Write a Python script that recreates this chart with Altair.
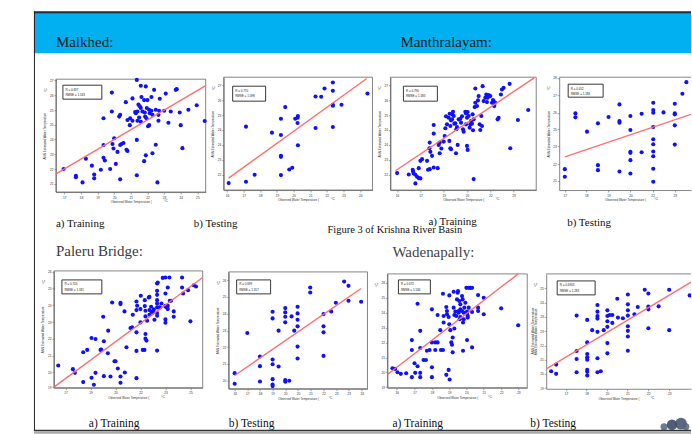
import altair as alt
import pandas as pd

SERIF = "Liberation Serif"
SANS = "Liberation Sans"

# ---------------- data (observed, ANN estimated) ----------------
malkhed_train = [
    (21.36, 27.24), (19.86, 26.5), (21.6, 26.9), (21.9, 26.86), (22.4, 26.66), (23.76, 26.7), (23.7, 26.66),
    (23.1, 26.44), (21.1, 26.16), (20.7, 25.94), (21.64, 26.24), (21.8, 26.06), (22.0, 26.06), (22.24, 26.24),
    (22.74, 26.14), (21.46, 25.8), (21.54, 25.7), (21.6, 25.6), (21.96, 25.6), (22.1, 25.5), (21.26, 25.36),
    (21.4, 25.4), (21.3, 25.3), (21.7, 25.4), (21.84, 25.34), (22.14, 25.3), (22.24, 25.44), (22.5, 25.5),
    (23.0, 25.44), (23.4, 25.4), (23.94, 25.34), (24.46, 25.5), (24.96, 25.76), (20.36, 25.2), (20.3, 25.1),
    (19.86, 25.4), (19.36, 25.0), (20.8, 24.9), (20.96, 25.0), (21.1, 24.86), (21.4, 24.86), (21.5, 25.04),
    (21.6, 24.8), (21.86, 25.1), (21.94, 25.0), (22.3, 25.2), (22.66, 25.2), (22.7, 25.44), (22.1, 24.6),
    (22.04, 24.54), (22.66, 24.86), (23.26, 24.74), (24.0, 24.6), (25.44, 24.84), (20.94, 24.6), (20.0, 23.84),
    (21.36, 23.74), (20.56, 23.56), (20.44, 23.5), (20.36, 23.44), (19.9, 23.5), (19.96, 23.24), (20.74, 23.16),
    (20.8, 23.1), (20.2, 23.04), (19.36, 23.44), (22.5, 23.46), (22.3, 22.96), (21.9, 22.84), (21.8, 22.5),
    (24.1, 23.26), (19.36, 22.7), (19.44, 22.54), (18.3, 22.64), (18.66, 22.24), (19.2, 22.0), (19.76, 22.04),
    (20.1, 22.34), (16.96, 22.04), (17.7, 21.64), (17.7, 21.56), (18.8, 21.72), (18.8, 21.5), (20.36, 21.44),
    (18.1, 21.26), (21.36, 21.68), (22.6, 21.26),
]
malkhed_test = [
    (16.1, 21.26), (17.14, 21.34), (17.66, 21.76), (17.14, 24.66), (18.7, 24.3), (19.24, 25.14), (19.24, 24.16),
    (19.24, 22.9), (19.24, 22.84), (19.24, 21.74), (19.5, 25.84), (19.74, 22.08), (19.92, 22.18), (20.1, 25.14),
    (20.24, 25.2), (20.26, 25.3), (20.24, 24.88), (20.26, 23.54), (21.32, 24.58), (21.32, 26.48), (21.66, 26.46),
    (21.86, 26.96), (22.36, 27.32), (22.36, 26.82), (22.36, 25.92), (22.36, 25.98), (22.36, 24.64), (22.88, 25.98),
    (24.44, 26.66),
]
manth_train = [
    (16.0, 21.86), (16.7, 21.78), (16.94, 22.06), (17.0, 21.84), (17.1, 21.76), (17.2, 21.64), (17.3, 21.56),
    (17.4, 21.54), (17.1, 21.24), (16.96, 21.96), (17.3, 22.16), (17.4, 22.6), (17.5, 22.7), (17.8, 22.6),
    (17.86, 22.06), (17.96, 22.1), (18.2, 22.2), (18.44, 22.16), (17.94, 23.36), (17.96, 23.7), (18.0, 23.14),
    (18.1, 22.9), (18.2, 24.24), (18.2, 24.76), (18.5, 23.56), (18.56, 23.06), (18.56, 23.7), (18.66, 23.34),
    (18.8, 23.76), (18.86, 24.1), (18.9, 24.56), (18.94, 25.28), (19.0, 24.8), (19.1, 25.2), (19.14, 23.8),
    (19.16, 25.44), (19.2, 23.36), (19.24, 23.3), (19.2, 24.7), (19.24, 25.04), (19.3, 25.1), (19.32, 25.4),
    (19.36, 25.56), (19.4, 25.3), (19.44, 24.84), (19.5, 24.86), (19.54, 23.06), (19.56, 24.5), (19.6, 24.64),
    (19.64, 23.56), (19.7, 25.1), (19.8, 25.14), (19.84, 24.9), (19.9, 25.28), (19.96, 24.5), (20.0, 24.36),
    (20.1, 25.56), (20.14, 25.46), (20.14, 24.8), (20.2, 25.2), (20.24, 25.54), (20.3, 25.3), (20.36, 24.6),
    (20.4, 24.8), (20.44, 25.0), (20.5, 24.84), (20.54, 25.4), (20.6, 25.1), (20.56, 24.44), (20.6, 21.5),
    (20.24, 23.26), (20.2, 23.5), (20.7, 26.1), (20.66, 25.84), (20.7, 26.96), (20.8, 25.9), (20.86, 26.24),
    (20.9, 26.5), (20.96, 24.8), (21.0, 24.46), (21.06, 25.3), (21.1, 24.7), (21.14, 27.1), (21.2, 26.2),
    (21.3, 26.4), (21.36, 26.6), (21.4, 26.14), (21.44, 26.4), (21.5, 26.56), (21.6, 26.5), (21.7, 26.1),
    (21.76, 26.26), (21.8, 26.2), (21.84, 25.9), (21.9, 26.1), (22.04, 25.1), (22.1, 25.2), (22.24, 26.6),
    (22.3, 26.9), (22.4, 27.0), (22.76, 27.24), (22.8, 23.36), (23.26, 25.06), (23.88, 25.66),
]
manth_test = [
    (16.5, 22.1), (16.5, 21.64), (17.14, 25.46), (17.14, 25.22), (17.84, 24.36), (18.5, 24.86), (18.5, 22.34),
    (18.5, 22.04), (19.14, 25.24), (19.8, 26.0), (19.8, 25.0), (19.8, 24.9), (19.8, 21.96), (20.46, 25.3),
    (20.46, 24.46), (20.46, 23.14), (20.46, 23.08), (20.46, 22.64), (20.46, 21.84), (21.14, 25.44), (21.14, 23.12),
    (21.84, 26.1), (21.84, 25.66), (21.84, 25.5), (21.84, 24.64), (21.84, 23.9), (21.84, 23.6), (21.84, 23.16),
    (21.84, 22.88), (21.84, 22.12), (21.84, 21.34), (22.46, 25.52), (23.14, 26.04), (23.14, 25.46), (23.14, 25.4),
    (23.14, 24.74), (23.14, 23.58), (23.6, 26.64), (23.84, 27.34),
]
paleru_train = [
    (16.66, 20.5), (17.54, 20.28), (17.66, 20.06), (18.16, 21.3), (18.4, 21.44), (18.16, 19.5), (18.66, 22.16),
    (18.9, 22.1), (18.66, 19.76), (18.8, 19.34), (18.9, 20.06), (19.2, 21.44), (19.24, 21.46), (19.36, 23.44),
    (19.4, 21.96), (19.4, 19.86), (19.64, 21.24), (19.66, 22.6), (19.8, 19.84), (19.9, 24.3), (20.04, 20.76),
    (20.1, 20.76), (20.24, 20.32), (20.4, 24.28), (20.4, 24.2), (20.4, 19.84), (20.4, 19.46), (20.64, 23.76),
    (20.66, 20.08), (20.76, 21.6), (21.0, 22.76), (21.1, 22.8), (21.14, 23.56), (21.36, 22.5), (21.36, 24.36),
    (21.36, 21.38), (21.36, 19.74), (21.36, 23.84), (21.4, 24.1), (21.6, 23.9), (21.6, 23.1), (21.62, 24.7),
    (21.74, 21.44), (21.84, 21.44), (21.86, 24.44), (21.86, 24.08), (21.9, 23.8), (21.9, 23.46), (21.9, 22.4),
    (21.9, 22.12), (21.96, 22.0), (22.0, 23.2), (22.1, 24.6), (22.14, 24.64), (22.14, 23.84), (22.14, 23.56),
    (22.24, 24.04), (22.26, 23.74), (22.36, 23.7), (22.4, 23.88), (22.44, 23.26), (22.6, 25.44), (22.64, 25.5),
    (22.6, 25.0), (22.6, 24.76), (22.6, 24.44), (22.6, 24.24), (22.6, 24.0), (22.6, 23.66), (22.6, 23.5),
    (22.6, 21.4), (22.76, 24.0), (22.86, 24.24), (22.94, 25.78), (23.1, 25.8), (23.1, 24.84), (23.1, 24.1),
    (23.1, 24.04), (23.2, 24.0), (23.24, 25.2), (23.24, 24.1), (23.24, 23.9), (23.1, 23.28), (23.1, 23.08),
    (23.34, 25.8), (23.36, 24.4), (23.44, 24.4), (23.6, 23.76), (23.6, 23.44), (24.1, 25.8), (24.1, 25.2),
    (24.16, 24.84), (24.46, 25.04), (24.6, 23.16), (24.8, 25.34), (24.94, 25.26),
]
paleru_test = [
    (16.46, 20.04), (16.46, 19.4), (17.22, 22.46), (17.98, 21.04), (17.98, 20.46), (17.98, 19.54), (18.74, 23.74),
    (18.74, 23.34), (18.74, 20.86), (18.74, 20.58), (18.74, 19.68), (18.74, 19.36), (18.74, 19.26), (19.1, 22.6),
    (19.1, 20.44), (19.5, 23.96), (19.5, 23.7), (19.5, 23.44), (19.5, 23.1), (19.5, 19.62), (19.5, 19.52),
    (19.74, 19.58), (19.88, 23.46), (20.04, 22.6), (20.24, 24.04), (20.24, 23.64), (20.24, 23.26), (20.24, 22.86),
    (20.24, 21.64), (20.24, 20.92), (21.0, 25.2), (21.0, 24.9), (21.8, 23.6), (21.8, 22.86), (21.8, 22.5),
    (21.8, 21.08), (22.26, 23.76), (22.54, 24.28), (23.04, 25.56), (23.3, 25.3), (23.3, 24.4), (24.06, 24.34),
]
waden_train = [
    (15.74, 20.34), (15.9, 20.3), (16.04, 20.1), (16.24, 20.0), (16.56, 20.04), (16.9, 22.04), (16.9, 21.44),
    (16.9, 19.8), (17.06, 20.64), (17.1, 20.06), (17.24, 20.46), (17.24, 24.24), (17.4, 22.6), (17.4, 21.56),
    (17.4, 20.06), (17.4, 19.8), (17.6, 20.84), (17.74, 20.84), (17.8, 21.4), (17.96, 21.44), (18.1, 23.9),
    (18.1, 21.9), (18.1, 20.4), (18.1, 19.8), (18.3, 21.44), (18.44, 23.56), (18.6, 22.64), (18.64, 21.44),
    (18.76, 21.44), (18.76, 24.84), (18.8, 23.5), (18.8, 23.1), (18.96, 24.04), (18.96, 19.94), (19.0, 23.8),
    (19.0, 23.6), (19.1, 23.44), (19.1, 20.24), (19.14, 24.74), (19.14, 23.0), (19.16, 19.66), (19.2, 22.64),
    (19.26, 21.9), (19.3, 21.76), (19.34, 21.3), (19.4, 24.96), (19.4, 24.0), (19.44, 23.56), (19.44, 22.74),
    (19.5, 23.76), (19.56, 23.5), (19.6, 24.5), (19.64, 24.9), (19.66, 25.0), (19.7, 23.7), (19.7, 23.8),
    (19.74, 24.4), (19.76, 23.3), (19.8, 24.2), (19.8, 23.9), (19.8, 23.44), (19.9, 24.7), (19.9, 23.8),
    (19.94, 24.5), (19.96, 23.1), (19.96, 21.4), (20.0, 23.7), (20.0, 23.3), (20.04, 24.0), (20.1, 24.3),
    (20.16, 25.2), (20.2, 23.76), (20.2, 23.64), (20.24, 23.5), (20.24, 23.4), (20.3, 24.0), (20.3, 25.2),
    (20.2, 22.04), (20.4, 25.2), (20.5, 25.2), (20.5, 21.6), (20.5, 23.74), (20.86, 24.76), (20.86, 24.0),
    (20.86, 23.8), (21.2, 24.6), (21.2, 23.6), (22.24, 23.96), (23.26, 22.94), (19.34, 22.2), (18.3, 21.9),
    (18.44, 21.9),
]
waden_test = [
    (16.26, 20.16), (16.56, 20.56), (16.56, 20.0), (17.8, 23.52), (17.8, 21.38), (17.8, 20.9), (17.8, 20.1),
    (18.44, 23.26), (18.44, 21.2), (18.44, 21.0), (18.44, 20.86), (18.44, 20.24), (18.44, 20.12), (18.44, 19.9),
    (18.44, 21.9), (18.74, 22.64), (19.06, 24.16), (19.06, 23.76), (19.06, 23.5), (19.06, 23.34), (19.06, 22.54),
    (19.06, 20.94), (19.06, 20.1), (19.26, 20.16), (19.44, 22.64), (19.66, 23.84), (19.66, 23.5), (19.66, 23.18),
    (19.66, 22.84), (19.66, 21.86), (19.66, 21.24), (19.8, 23.56), (19.96, 23.56), (19.96, 23.08), (20.26, 24.54),
    (20.3, 23.4), (20.6, 23.36), (20.9, 24.8), (20.9, 24.2), (20.9, 23.84), (20.9, 23.52), (20.9, 22.88),
    (20.9, 22.6), (20.9, 22.26), (20.9, 21.4), (21.3, 23.6), (21.5, 24.04), (21.92, 25.08), (22.14, 24.86),
    (22.14, 24.06), (22.14, 23.9), (22.14, 22.76), (22.76, 24.08), (23.4, 25.08), (23.4, 22.64), (24.64, 24.74),
]

# fitted lines (two end points each)
malkhed_train_fit = [(16.5, 21.76), (25.5, 26.9)]
malkhed_test_fit = [(16.1, 21.56), (24.4, 27.56)]
manth_train_fit = [(15.9, 22.0), (24.24, 27.6)]
manth_test_fit = [(16.5, 22.84), (24.12, 25.4)]
paleru_train_fit = [(16.4, 19.2), (25.34, 25.8)]
paleru_test_fit = [(16.46, 19.9), (24.06, 25.14)]
waden_train_fit = [(15.44, 19.96), (23.26, 26.04)]
waden_test_fit = [(15.96, 20.3), (24.72, 25.54)]

# legend statistics
stats_r = ["R      = 0.697", "R      = 0.770", "R      = 0.790", "R      = 0.452",
           "R      = 0.724", "R      = 0.699", "R      = 0.672", "R      = 0.6903"]
stats_rmse = ["RMSE = 1.533", "RMSE = 1.098", "RMSE = 1.183", "RMSE = 1.186",
              "RMSE = 1.181", "RMSE = 1.317", "RMSE = 1.536", "RMSE = 1.283"]

# axis ticks
ticks = {
    "p1x": [17, 18, 19, 20, 21, 22, 23, 24, 25],
    "p1y": [27.2, 26.34, 25.48, 24.62, 23.76, 22.9, 22.04, 21.18],
    "p2x": [16, 17, 18, 19, 20, 21, 22, 23, 24],
    "p2y": [27.16, 26.26, 25.36, 24.46, 23.56, 22.66, 21.76],
    "p3x": [16.0, 17.4, 18.8, 20.2, 21.6, 23.0],
    "p3y": [27.16, 26.26, 25.36, 24.46, 23.56, 22.66, 21.76],
    "p4x": [16.5, 17.8, 19.14, 20.46, 21.8, 23.14],
    "p4y": [27.6, 26.54, 25.5, 24.5, 23.46, 22.4, 21.4],
    "p5x": [17.1, 18.6, 20.1, 21.6, 23.1, 24.6],
    "p5y": [26.16, 25.16, 24.14, 23.12, 22.1, 21.1, 20.1, 19.2],
    "p6x": [16.46, 17.22, 17.98, 18.74, 19.5, 20.26, 21.02, 21.8, 22.56, 23.32, 24.1],
    "p6y": [25.64, 24.64, 23.64, 22.6, 21.6, 20.6, 19.6],
    "p7x": [16.0, 17.06, 18.1, 19.14, 20.16, 21.2, 22.24, 23.26],
    "p7y": [25.5, 24.6, 23.7, 22.8, 21.9, 21.0, 20.1, 19.2],
    "p8x": [17.16, 18.4, 19.64, 20.88, 22.14, 23.4],
    "p8y": [25.18, 24.3, 23.44, 22.58, 21.7, 20.84, 20.0, 19.14],
}


def one(v):
    return pd.DataFrame({"t": [v]})


def txt(s, x, y, size, color="#111111", font=SERIF, align="left", angle=0):
    return alt.Chart(one(s)).mark_text(
        align=align, baseline="alphabetic", fontSize=size, font=font, color=color, angle=angle
    ).encode(x=alt.value(x), y=alt.value(y), text="t:N")


def block(x0, x1, y0, y1, color):
    return alt.Chart(one(0)).mark_rect(color=color).encode(
        x=alt.value(x0), x2=alt.value(x1), y=alt.value(y0), y2=alt.value(y1)
    )


def blob(x, y, size, color):
    return alt.Chart(one(0)).mark_circle(color=color, opacity=0.85).encode(
        x=alt.value(x), y=alt.value(y), size=alt.value(size))


# slide decoration (positions relative to the first grid cell's corner)
slide_layers = [
    block(-20, 638, -66, -63.5, "#1f2d3d"),
    block(-20, 638, -63.5, -24, "#00b0f0"),
    block(-20, -19, -66, 354, "#222222"),
    blob(611, 350, 50, "#56647e"),
    blob(619, 348, 110, "#34425f"),
    blob(628, 347, 140, "#3e4d6b"),
    blob(633, 350, 45, "#56647e"),
    block(-20, 638, 353, 354.5, "#333333"),
    block(-20, 638, 354.5, 357, "#a8a8a8"),
    txt("Malkhed:", 2, -30, 15, "#1b1b1b"),
    txt("Manthralayam:", 347, -30, 15, "#1b1b1b"),
    txt("Paleru Bridge:", 2, 179, 15, "#3a3a3a"),
    txt("Wadenapally:", 339, 180, 15, "#444444"),
    txt("a) Training", 2, 150, 11, "#111111"),
    txt("b) Testing", 140, 150, 11, "#111111"),
    txt("a) Training", 375, 148, 11, "#111111"),
    txt("b) Testing", 514, 149, 11, "#111111"),
    txt("Figure 3 of Krishna River Basin", 274, 156, 10.5, "#111111"),
    txt("a) Training", 35, 350, 11.5, "#111111"),
    txt("b) Testing", 175, 350, 11.5, "#111111"),
    txt("a) Training", 339, 350, 11.5, "#111111"),
    txt("b) Testing", 477, 350, 11.5, "#111111"),
]


def panel(points, fit, xdom, ydom, xt, yt, cell, frame_box, box, idx,
          open_right=False, ytitle_right=False, extra=()):
    W, H = cell
    a, b, t, bt = frame_box          # plot frame inside the grid cell
    pts = pd.DataFrame(points, columns=["obs", "est"])
    ln = pd.DataFrame(fit, columns=["obs", "est"])
    X = alt.X("obs:Q", scale=alt.Scale(domain=xdom, range=[a, b], nice=False, zero=False),
              axis=alt.Axis(values=xt, format=".0f", title="Observed Water Temperature (",
                            offset=-(H - bt)))
    Y = alt.Y("est:Q", scale=alt.Scale(domain=ydom, range=[bt, t], nice=False, zero=False),
              axis=alt.Axis(values=yt, format=".0f", offset=-a,
                            title="" if ytitle_right else "ANN Estimated Water Temperature"))
    dots = alt.Chart(pts).mark_circle(size=17, color="#1010ff", opacity=1, clip=True).encode(x=X, y=Y)
    line = alt.Chart(ln).mark_line(color="#ff6e6e", strokeWidth=1.4, clip=True).encode(x=X, y=Y)
    x0, x1, y0, y1 = box
    x0, x1, y0, y1 = x0 + a, x1 + a, y0 + t, y1 + t
    lbox = alt.Chart(one(0)).mark_rect(fill="white", stroke="#222222", strokeWidth=0.9).encode(
        x=alt.value(x0), x2=alt.value(x1), y=alt.value(y0), y2=alt.value(y1))
    if open_right:
        frame = alt.Chart(one(0)).mark_rule(color="#666666", strokeWidth=0.8).encode(
            x=alt.value(a), x2=alt.value(b), y=alt.value(t))
    else:
        frame = alt.Chart(one(0)).mark_rect(fill="transparent", stroke="#666666", strokeWidth=0.8).encode(
            x=alt.value(a), x2=alt.value(b), y=alt.value(t), y2=alt.value(bt))
    layers = list(extra) + [frame, dots, line, lbox,
              txt(stats_r[idx], x0 + 2.5, y0 + 5.5, 3, "#222", SANS),
              txt(stats_rmse[idx], x0 + 2.5, y0 + 11, 3, "#222", SANS),
              txt("°C", a - 9, t + 13, 3.5, "#333", SANS, angle=270),
              txt("°C", a + (b - a) * 0.72, bt + 10, 3.5, "#333", SANS)]
    if ytitle_right:
        layers.append(txt("ANN Estimated Water Temperature", b + 7, (t + bt) / 2, 3, "#333", SANS,
                          align="center", angle=270))
    return alt.layer(*layers).properties(width=W, height=H)


# grid cells: columns start at x = 53, 223, 387, 546 ; rows start at y = 76, 270
C1, C2, C3, C4 = 170, 164, 159, 145
R1, R2 = 115, 118

p1 = panel(malkhed_train, malkhed_train_fit, [16.5, 25.5], [20.7, 27.28], ticks["p1x"], ticks["p1y"],
           (C1, R1), (2, 152, 2, 115), (7, 46, 6, 20), 0, extra=slide_layers)
p2 = panel(malkhed_test, malkhed_test_fit, [15.8, 24.74], [20.84, 27.64], ticks["p2x"], ticks["p2y"],
           (C2, R1), (0, 149, 0, 113), (9, 42, 9, 24), 1)
p3 = panel(manth_train, manth_train_fit, [15.6, 24.36], [20.84, 27.64], ticks["p3x"], ticks["p3y"],
           (C3, R1), (3, 149, 0, 113), (13, 47, 9, 24), 2)
p4 = panel(manth_test, manth_test_fit, [16.16, 24.12], [20.84, 27.64], ticks["p4x"], ticks["p4y"],
           (C4, R1), (13, 145, 0, 113), (9, 44, 7, 20), 3, open_right=True)
p5 = panel(paleru_train, paleru_train_fit, [16.4, 25.34], [19.16, 26.2], ticks["p5x"], ticks["p5y"],
           (C1, R2), (0, 149, 0, 117), (8, 48, 9, 23), 4)
p6 = panel(paleru_test, paleru_test_fit, [16.1, 24.44], [19.1, 26.14], ticks["p6x"], ticks["p6y"],
           (C2, R2), (5, 144, 1, 118), (8, 42, 8, 22), 5)
p7 = panel(waden_train, waden_train_fit, [15.44, 23.8], [19.16, 26.04], ticks["p7x"], ticks["p7y"],
           (C3, R2), (0, 140, 3, 117), (11, 43, 6, 20), 6, ytitle_right=True)
p8 = panel(waden_test, waden_test_fit, [15.96, 24.72], [19.1, 26.04], ticks["p8x"], ticks["p8y"],
           (C4, R2), (0, 145, 3, 118), (11, 49, 7, 21), 7, open_right=True)

chart = alt.concat(
    p1, p2, p3, p4, p5, p6, p7, p8,
    columns=4,
    spacing={"row": 79, "column": 0},
    bounds="flush",
    align="each",
).properties(
    padding={"left": 33, "top": 10, "right": 0, "bottom": 0},
    background="white",
).configure_view(
    stroke="transparent"
).configure_axis(
    grid=False, labelFontSize=3.2, titleFontSize=3, labelFont=SANS, titleFont=SANS,
    labelColor="#333333", titleColor="#333333", tickSize=2, tickWidth=0.6, tickColor="#666666",
    domainColor="#666666", domainWidth=0.8, labelPadding=1, titlePadding=2.5, titleFontWeight="normal",
)

chart.save("out.html", embed_options={"renderer": "svg", "actions": False})
